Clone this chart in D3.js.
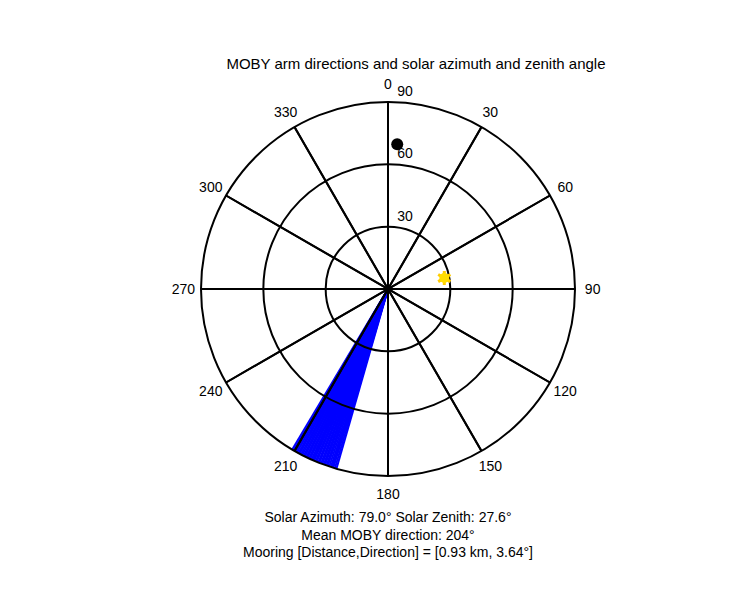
<!DOCTYPE html>
<html><head><meta charset="utf-8">
<script src="https://cdn.jsdelivr.net/npm/d3@7"></script>
<style>body{margin:0;background:#fff}text{font-family:Arial,"Liberation Sans",sans-serif;font-size:14px}</style>
</head><body><div id="chart"></div>
<script>
let armDirections = [196.0, 196.5, 197.0, 197.4, 197.8, 198.3, 198.8, 199.2, 199.7, 200.1, 200.6, 201.0, 201.5, 201.9, 202.4, 202.8, 203.3, 203.7, 204.1, 204.6, 205.0, 205.5, 205.9, 206.4, 206.8, 207.3, 207.7, 208.2, 208.6, 209.1, 209.5, 210.0, 210.4, 210.8]
let ringValues = [30, 60, 90]
let spokeAngles = d3.range(0, 360, 30)
let solar = { azimuth: 79.0, zenith: 27.6 }
let mooring = { direction: 3.64, zenith: 69.8 }
let title = 'MOBY arm directions and solar azimuth and zenith angle'
let footer = ['Solar Azimuth: 79.0\u00b0    Solar Zenith: 27.6\u00b0', 'Mean MOBY direction: 204\u00b0', 'Mooring [Distance,Direction] = [0.93 km, 3.64\u00b0]']

let cx = 388, cy = 289
let svg = d3.select('#chart').append('svg').attr('width', 750).attr('height', 600)
let g = svg.append('g').attr('transform', 'translate(' + cx + ',' + cy + ')')
let r = d3.scaleLinear().domain([0, 90]).range([0, 187])
let pt = (az, v) => [r(v) * Math.sin(az * Math.PI / 180), -r(v) * Math.cos(az * Math.PI / 180)]

g.selectAll('.arm').data(armDirections).enter().append('line')
  .attr('x1', 0).attr('y1', 0)
  .attr('x2', d => pt(d, 90)[0]).attr('y2', d => pt(d, 90)[1])
  .attr('stroke', '#0000ff').attr('stroke-width', 2)

g.selectAll('.ring').data(ringValues).enter().append('circle')
  .attr('r', d => r(d)).attr('fill', 'none').attr('stroke', '#000').attr('stroke-width', 2)

g.selectAll('.spoke').data(spokeAngles).enter().append('line')
  .attr('x1', d => pt(d, 90)[0]).attr('y1', d => pt(d, 90)[1])
  .attr('x2', d => pt(d + 180, 90)[0]).attr('y2', d => pt(d + 180, 90)[1])
  .attr('stroke', '#000').attr('stroke-width', 2)

g.selectAll('.alab').data(spokeAngles).enter().append('text')
  .attr('x', d => pt(d, 98.5)[0]).attr('y', d => pt(d, 98.5)[1] + 5)
  .attr('text-anchor', 'middle').text(d => d)

g.selectAll('.rlab').data(ringValues).enter().append('text')
  .attr('x', 17).attr('y', d => -r(d) - 6).attr('text-anchor', 'middle').text(d => d)

let s = pt(solar.azimuth, solar.zenith)
g.append('path').attr('d', d3.symbol(d3.symbolAsterisk, 140)())
  .attr('transform', 'translate(' + s + ')').attr('stroke', '#ffcc00').attr('stroke-width', 3)
g.append('circle').attr('cx', s[0]).attr('cy', s[1]).attr('r', 5).attr('fill', '#ffdd00')

let m = pt(mooring.direction, mooring.zenith)
g.append('circle').attr('cx', m[0]).attr('cy', m[1]).attr('r', 6).attr('fill', '#000')

svg.append('text').attr('x', 416).attr('y', 69).attr('text-anchor', 'middle')
  .style('font-size', '15px').text(title)
svg.selectAll('.foot').data(footer).enter().append('text')
  .attr('x', 388).attr('y', (d, i) => 522 + i * 17.5).attr('text-anchor', 'middle').text(d => d)
</script></body></html>
